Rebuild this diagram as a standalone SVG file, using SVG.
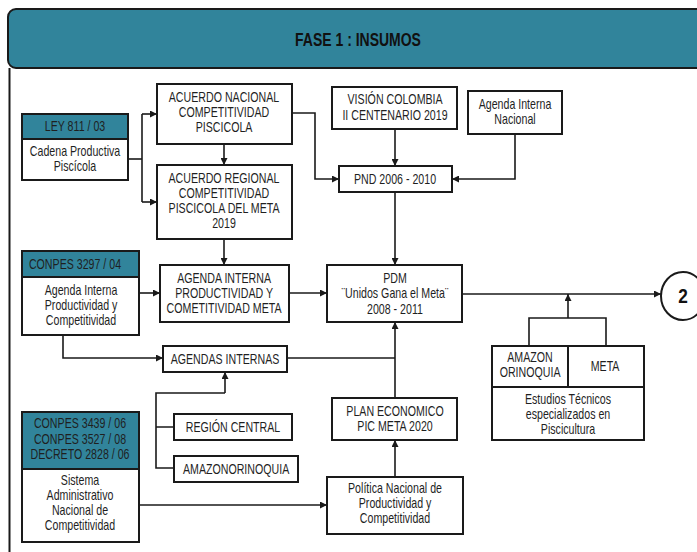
<svg xmlns="http://www.w3.org/2000/svg" width="697" height="552" viewBox="0 0 697 552">
  <style>
    .box { fill: #ffffff; stroke: #1a1a1a; stroke-width: 2; }
    .band { fill: #31849b; stroke: #1a1a1a; stroke-width: 2; }
    .wire { fill: none; stroke: #1a1a1a; stroke-width: 1.6; }
    /* condensed lettering: Arial-metric face squeezed horizontally about its own centre */
    .lbl, .title, .big { transform-box: fill-box; transform-origin: center; text-anchor: middle; font-family: "Liberation Sans", Arial, sans-serif; }
    .lbl { font-size: 14px; fill: #1f1f1f; transform: scaleX(0.76); }
    .title { font-size: 17.5px; font-weight: bold; fill: #111111; transform: scaleX(0.8); }
    .big { font-size: 21px; font-weight: bold; fill: #111111; transform: scaleX(0.82); }
  </style>
  <defs>
    <marker id="arrow" viewBox="0 0 7 7" refX="7" refY="3.5" markerWidth="7" markerHeight="7" markerUnits="userSpaceOnUse" orient="auto">
      <path d="M0,0 L7,3.5 L0,7 z" fill="#1a1a1a"/>
    </marker>
  </defs>

  <rect width="697" height="552" fill="#ffffff"/>

  <!-- phase banner and left frame -->
  <g id="header">
    <rect x="8" y="9" width="700" height="59" rx="8" class="band" stroke-width="2.4"/>
    <text x="358" y="46" class="title">FASE 1 : INSUMOS</text>
    <line x1="9.5" y1="68" x2="9.5" y2="552" stroke="#1a1a1a" stroke-width="2"/>
  </g>

  <g id="connectors">
    <path class="wire" d="M128,159 H142"/>
    <path class="wire" d="M142,114 V202"/>
    <path class="wire" d="M142,114 H157" marker-end="url(#arrow)"/>
    <path class="wire" d="M142,202 H157" marker-end="url(#arrow)"/>
    <path class="wire" d="M224,144 V165" marker-end="url(#arrow)"/>
    <path class="wire" d="M292,113 H315 V179 H339" marker-end="url(#arrow)"/>
    <path class="wire" d="M395,129 V166" marker-end="url(#arrow)"/>
    <path class="wire" d="M515,134 V179 H452" marker-end="url(#arrow)"/>
    <path class="wire" d="M395,192 V265" marker-end="url(#arrow)"/>
    <path class="wire" d="M224,239 V265" marker-end="url(#arrow)"/>
    <path class="wire" d="M139,293 H160" marker-end="url(#arrow)"/>
    <path class="wire" d="M289,293 H327" marker-end="url(#arrow)"/>
    <path class="wire" d="M63,335 V358 H163" marker-end="url(#arrow)"/>
    <path class="wire" d="M287,358 H395"/>
    <path class="wire" d="M395,398 V322" marker-end="url(#arrow)"/>
    <path class="wire" d="M395,477 V440" marker-end="url(#arrow)"/>
    <path class="wire" d="M139,505 H327" marker-end="url(#arrow)"/>
    <path class="wire" d="M174,427 H156 M174,468 H156 V393 H225"/>
    <path class="wire" d="M225,393 V372" marker-end="url(#arrow)"/>
    <path class="wire" d="M462,294 H661" marker-end="url(#arrow)"/>
    <path class="wire" d="M529,346 V318 H606 V346"/>
    <path class="wire" d="M568,318 V294" marker-end="url(#arrow)"/>
  </g>

  <g id="ley-811">
    <rect x="22" y="114" width="106" height="66" class="box"/>
    <rect x="22" y="114" width="106" height="25" class="band"/>
    <text x="75" y="131.5" class="lbl">LEY 811 / 03</text>
    <text x="75" y="156.5" class="lbl">Cadena Productiva</text>
    <text x="75" y="171.5" class="lbl">Piscícola</text>
  </g>

  <g id="acuerdo-nacional">
    <rect x="157" y="84" width="135" height="60" class="box"/>
    <text x="224" y="102.5" class="lbl">ACUERDO NACIONAL</text>
    <text x="224" y="117.5" class="lbl">COMPETITIVIDAD</text>
    <text x="224" y="132.5" class="lbl">PISCICOLA</text>
  </g>

  <g id="acuerdo-regional">
    <rect x="157" y="165" width="135" height="74" class="box"/>
    <text x="224" y="183.5" class="lbl">ACUERDO REGIONAL</text>
    <text x="224" y="198.5" class="lbl">COMPETITIVIDAD</text>
    <text x="224" y="213.5" class="lbl">PISCICOLA DEL META</text>
    <text x="224" y="228.5" class="lbl">2019</text>
  </g>

  <g id="vision-colombia">
    <rect x="332" y="87" width="125" height="42" class="box"/>
    <text x="395" y="104.5" class="lbl">VISIÓN COLOMBIA</text>
    <text x="395" y="120.5" class="lbl">II CENTENARIO 2019</text>
  </g>

  <g id="agenda-nacional">
    <rect x="468" y="91" width="94" height="43" class="box"/>
    <text x="515" y="109.5" class="lbl">Agenda Interna</text>
    <text x="515" y="124.5" class="lbl">Nacional</text>
  </g>

  <g id="pnd">
    <rect x="339" y="166" width="113" height="26" class="box"/>
    <text x="395" y="184" class="lbl">PND 2006 - 2010</text>
  </g>

  <g id="conpes-3297">
    <rect x="22" y="251" width="117" height="84" class="box"/>
    <rect x="22" y="251" width="117" height="26" class="band"/>
    <text x="75" y="269" class="lbl">CONPES 3297 / 04</text>
    <text x="81" y="295.5" class="lbl">Agenda Interna</text>
    <text x="81" y="310.5" class="lbl">Productividad y</text>
    <text x="81" y="325.5" class="lbl">Competitividad</text>
  </g>

  <g id="agenda-meta">
    <rect x="160" y="265" width="129" height="57" class="box"/>
    <text x="224" y="283.5" class="lbl">AGENDA INTERNA</text>
    <text x="224" y="298.5" class="lbl">PRODUCTIVIDAD Y</text>
    <text x="224" y="313.5" class="lbl">COMETITIVIDAD META</text>
  </g>

  <g id="pdm">
    <rect x="327" y="265" width="135" height="57" class="box"/>
    <text x="395" y="283.5" class="lbl">PDM</text>
    <text x="395" y="298.5" class="lbl">¨Unidos Gana el Meta¨</text>
    <text x="395" y="314.5" class="lbl">2008 - 2011</text>
  </g>

  <g id="agendas-internas">
    <rect x="163" y="346" width="124" height="26" class="box"/>
    <text x="225" y="364" class="lbl">AGENDAS INTERNAS</text>
  </g>

  <g id="region-central">
    <rect x="174" y="414" width="118" height="26" class="box"/>
    <text x="233" y="432" class="lbl">REGIÓN CENTRAL</text>
  </g>

  <g id="amazonorinoquia">
    <rect x="174" y="456" width="124" height="26" class="box"/>
    <text x="236" y="474" class="lbl">AMAZONORINOQUIA</text>
  </g>

  <g id="plan-economico">
    <rect x="332" y="398" width="125" height="42" class="box"/>
    <text x="395" y="416.5" class="lbl">PLAN ECONOMICO</text>
    <text x="395" y="431.5" class="lbl">PIC META 2020</text>
  </g>

  <g id="politica-nacional">
    <rect x="327" y="477" width="136" height="57" class="box"/>
    <text x="395" y="493" class="lbl">Política Nacional de</text>
    <text x="395" y="508" class="lbl">Productividad y</text>
    <text x="395" y="523" class="lbl">Competitividad</text>
  </g>

  <g id="estudios-tecnicos">
    <rect x="492" y="346" width="152" height="94" class="box"/>
    <line x1="492" y1="387" x2="644" y2="387" stroke="#1a1a1a" stroke-width="2"/>
    <line x1="568" y1="346" x2="568" y2="387" stroke="#1a1a1a" stroke-width="2"/>
    <text x="530" y="362.5" class="lbl">AMAZON</text>
    <text x="530" y="377.5" class="lbl">ORINOQUIA</text>
    <text x="605" y="371.5" class="lbl">META</text>
    <text x="568" y="404.5" class="lbl">Estudios Técnicos</text>
    <text x="568" y="419.5" class="lbl">especializados en</text>
    <text x="568" y="434.5" class="lbl">Piscicultura</text>
  </g>

  <g id="conpes-3439">
    <rect x="22" y="412" width="117" height="130" class="box"/>
    <rect x="22" y="412" width="117" height="57" class="band"/>
    <text x="80" y="428.5" class="lbl">CONPES 3439 / 06</text>
    <text x="80" y="444.5" class="lbl">CONPES 3527 / 08</text>
    <text x="80" y="459.5" class="lbl">DECRETO 2828 / 06</text>
    <text x="80" y="485.5" class="lbl">Sistema</text>
    <text x="80" y="500.5" class="lbl">Administrativo</text>
    <text x="80" y="515.5" class="lbl">Nacional de</text>
    <text x="80" y="530.5" class="lbl">Competitividad</text>
  </g>

  <g id="connector-2">
    <ellipse cx="683" cy="296" rx="22" ry="24" fill="#ffffff" stroke="#1a1a1a" stroke-width="2"/>
    <text x="683" y="303.5" class="big">2</text>
  </g>
</svg>
